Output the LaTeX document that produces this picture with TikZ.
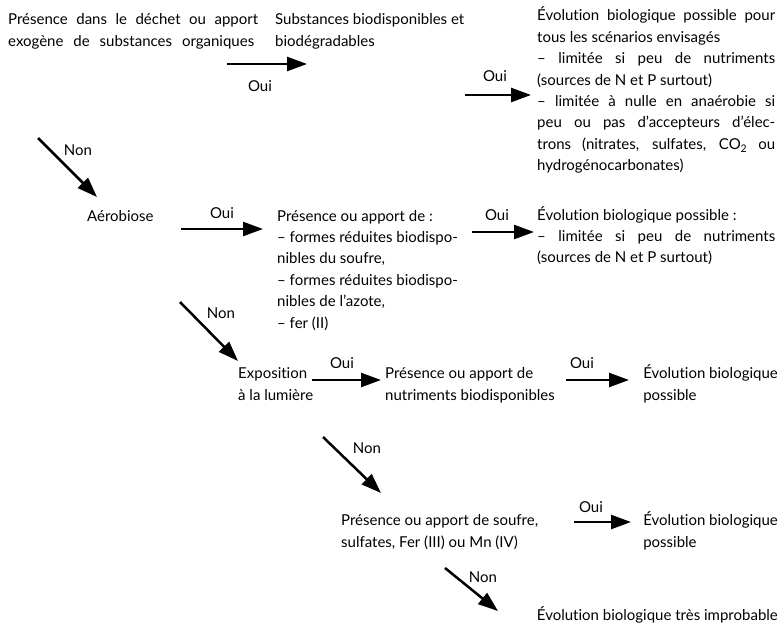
\documentclass[tikz,border=0pt]{standalone}
\usepackage{fontspec}
\setmainfont{Lato}[Ligatures=NoCommon]
\usetikzlibrary{arrows.meta}
\begin{document}
\begin{tikzpicture}[x=1pt,y=-1pt,
  txt/.style={anchor=base west,inner sep=0pt,align=left,font=\fontsize{15}{21.4}\selectfont},
  blk/.style={anchor=base west,inner sep=0pt,text width=#1,align=justify,font=\fontsize{15}{21.4}\selectfont},
  blk/.default=238pt,
  lab/.style={inner sep=0pt,font=\fontsize{15}{17}\selectfont},
  arr/.style={line width=2.5pt,-{Triangle[length=20pt,width=14pt]}},
  ]
\useasboundingbox (0,0) rectangle (783,626);
% top row
\node[txt] (n1) at (8,46) {\makebox[250pt][s]{Présence dans le déchet ou apport}\\\makebox[246pt][s]{exogène de substances organiques}};
\node[txt] (n2) at (275,46) {Substances biodisponibles et\\biodégradables};
\node[blk] (n3) at (537,21) {\hyphenpenalty=10000 Évolution biologique possible pour\linebreak tous les scénarios envisagés\\
– limitée si peu de nutriments\linebreak (sources de N et P surtout)\\
– limitée à nulle en anaérobie si\linebreak peu ou pas d’accepteurs d’élec-\linebreak trons (nitrates, sulfates, CO\textsubscript{2} ou\linebreak hydrogénocarbonates)};
\coordinate (a1s) at (227,64); \coordinate (a1e) at (307,64);
\draw[arr] (a1s) -- (a1e);
\node[lab] (l1) at (260,86) {Oui};
\coordinate (a2s) at (465,95); \coordinate (a2e) at (531,95);
\draw[arr] (a2s) -- (a2e);
\node[lab] (l2) at (495,76) {Oui};
% Non 1
\coordinate (b1s) at (38,138); \coordinate (b1e) at (97,197);
\draw[arr] (b1s) -- (b1e);
\node[lab] (l3) at (78,150) {Non};
% Aerobiose row
\node[txt] (n4) at (87,221) {Aérobiose};
\coordinate (a3s) at (181,229); \coordinate (a3e) at (263,229);
\draw[arr] (a3s) -- (a3e);
\node[lab] (l4) at (222,213) {Oui};
\node[txt] (n5) at (277,328) {Présence ou apport de :\\– formes réduites biodispo-\\nibles du soufre,\\– formes réduites biodispo-\\nibles de l’azote,\\– fer (II)};
\coordinate (a4s) at (472,232); \coordinate (a4e) at (534,232);
\draw[arr] (a4s) -- (a4e);
\node[lab] (l5) at (497,215) {Oui};
\node[blk] (n6) at (537,220) {\hyphenpenalty=10000 Évolution biologique possible :\\– limitée si peu de nutriments\linebreak (sources de N et P surtout)};
% Non 2
\coordinate (b2s) at (180,302); \coordinate (b2e) at (238,361);
\draw[arr] (b2s) -- (b2e);
\node[lab] (l6) at (221,313) {Non};
% Exposition row
\node[txt] (n7) at (238,400) {Exposition\\à la lumière};
\coordinate (a5s) at (312,380); \coordinate (a5e) at (381,380);
\draw[arr] (a5s) -- (a5e);
\node[lab] (l7) at (342,363) {Oui};
\node[txt] (n8) at (385,400) {Présence ou apport de\\nutriments biodisponibles};
\coordinate (a6s) at (566,380); \coordinate (a6e) at (629,380);
\draw[arr] (a6s) -- (a6e);
\node[lab] (l8) at (582,363) {Oui};
\node[txt,anchor=base east] (n9) at (778,400) {Évolution biologique\\possible};
% Non 3
\coordinate (b3s) at (323,437); \coordinate (b3e) at (381,493);
\draw[arr] (b3s) -- (b3e);
\node[lab] (l9) at (367,448) {Non};
\node[txt] (n10) at (341,547) {Présence ou apport de soufre,\\sulfates, Fer (III) ou Mn (IV)};
\coordinate (a7s) at (574,522); \coordinate (a7e) at (631,522);
\draw[arr] (a7s) -- (a7e);
\node[lab] (l10) at (591,507) {Oui};
\node[txt,anchor=base east] (n11) at (778,547) {Évolution biologique\\possible};
% Non 4
\coordinate (b4s) at (445,568); \coordinate (b4e) at (498,611);
\draw[arr] (b4s) -- (b4e);
\node[lab] (l11) at (483,577) {Non};
\node[txt,anchor=base east] (n12) at (778,620) {Évolution biologique très improbable};
\end{tikzpicture}
\end{document}
